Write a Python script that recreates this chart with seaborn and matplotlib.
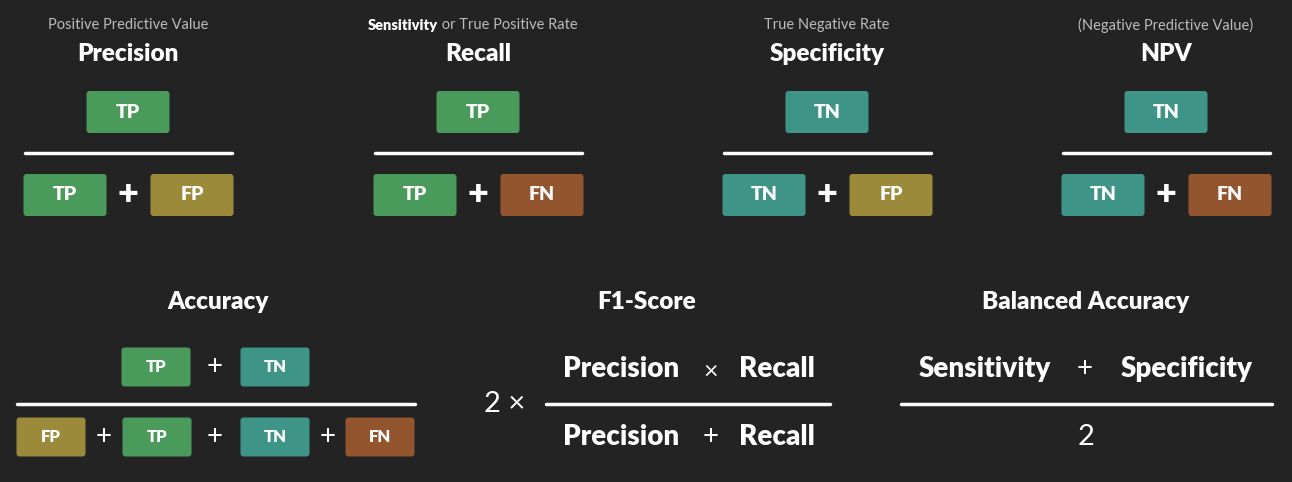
import matplotlib
matplotlib.use("Agg")
import matplotlib.pyplot as plt
import seaborn as sns
from matplotlib.patches import FancyBboxPatch

sns.set_theme(style="dark")
plt.rcParams['font.family'] = ['Lato', 'DejaVu Sans']

BG = "#232323"
COL = {"TP": "#4a9a5c", "FP": "#9a8a3a", "TN": "#3f9488", "FN": "#93552e"}

top_titles = ["Precision", "Recall", "Specificity", "NPV"]
top_subtitles = ["Positive Predictive Value", "Sensitivity or True Positive Rate",
                 "True Negative Rate", "(Negative Predictive Value)"]
top_numer = ["TP", "TP", "TN", "TN"]
top_denom = [("TP", "FP"), ("TP", "FN"), ("TN", "FP"), ("TN", "FN")]
top_centers = [128, 478, 827, 1166]

bottom_titles = ["Accuracy", "F1-Score", "Balanced Accuracy"]
acc_numer = ["TP", "TN"]
acc_denom = ["FP", "TP", "TN", "FN"]

fig = plt.figure(figsize=(12.92, 4.82), dpi=100, facecolor=BG)
ax = fig.add_axes([0, 0, 1, 1])
ax.set_facecolor(BG)
ax.set_xlim(0, 1292); ax.set_ylim(482, 0); ax.axis("off")

def box(cx, cy, w, h, lab, fs):
    ax.add_patch(FancyBboxPatch((cx - w/2 + 3, cy - h/2 + 3), w - 6, h - 6,
                 boxstyle="round,pad=3", fc=COL[lab], ec="none"))
    ax.text(cx, cy, lab, color="white", fontsize=fs, fontweight="heavy", ha="center", va="center")

def txt(x, y, s, fs, bold=True, color="white"):
    ax.text(x, y, s, color=color, fontsize=fs, fontweight="heavy" if bold else "normal",
            ha="center", va="center")

for cx, t, sub, num, den in zip(top_centers, top_titles, top_subtitles, top_numer, top_denom):
    if sub.startswith("Sensitivity"):
        ax.text(cx - 40, 25, "Sensitivity", color="white", fontsize=10.5, fontweight="heavy", ha="right", va="center")
        ax.text(cx - 40, 25, " or True Positive Rate", color="#bbbbbb", fontsize=10.5, ha="left", va="center")
    else:
        txt(cx, 25, sub, 10.5, bold=False, color="#bbbbbb")
    txt(cx, 54, t, 17.5)
    box(cx, 112, 83, 42, num, 14)
    ax.plot([cx - 103, cx + 104], [153, 153], color="white", lw=2.5)
    box(cx - 63, 195, 83, 42, den[0], 14)
    txt(cx, 195, "+", 26)
    box(cx + 64, 195, 83, 42, den[1], 14)

# Accuracy
txt(218, 302, bottom_titles[0], 17.5)
box(156, 367, 69, 39, acc_numer[0], 12)
txt(215, 367, "+", 20, bold=False)
box(275, 367, 69, 39, acc_numer[1], 12)
ax.plot([17, 415], [404, 404], color="white", lw=2.5)
for x, lab in zip([51, 157, 275, 380], acc_denom):
    box(x, 437, 69, 39, lab, 12)
for x in [104, 215, 328]:
    txt(x, 437, "+", 20, bold=False)

# F1
txt(647, 302, bottom_titles[1], 17.5)
txt(505, 404, "2 ×", 21, bold=False)
txt(621, 369, "Precision", 20); txt(711, 371, "×", 18, bold=False); txt(777, 369, "Recall", 20)
ax.plot([546, 830], [404, 404], color="white", lw=2.5)
txt(621, 437, "Precision", 20); txt(711, 437, "+", 20, bold=False); txt(777, 437, "Recall", 20)

# Balanced accuracy
txt(1086, 302, bottom_titles[2], 17.5)
txt(985, 369, "Sensitivity", 20); txt(1085, 369, "+", 20, bold=False); txt(1187, 369, "Specificity", 20)
ax.plot([901, 1272], [404, 404], color="white", lw=2.5)
txt(1086, 437, "2", 21, bold=False)

fig.savefig("out.png", dpi=100, facecolor=BG)
